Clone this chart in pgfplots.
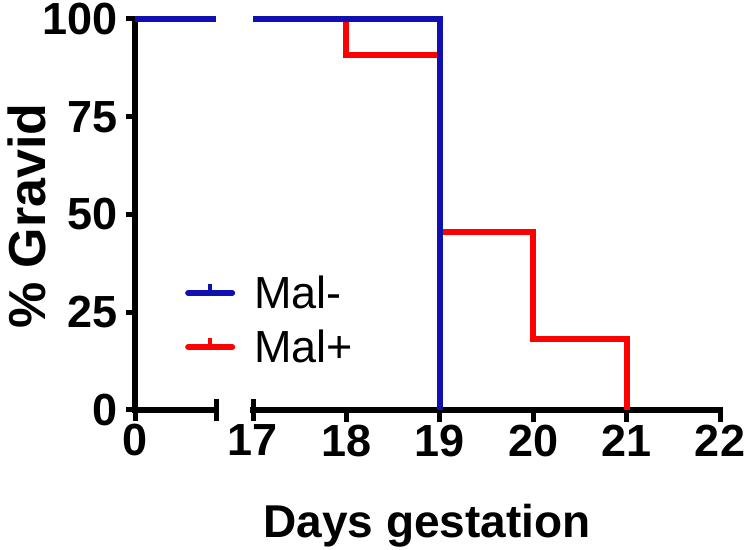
\documentclass[border=0pt]{standalone}
\usepackage{fontspec}
\setmainfont{Liberation Sans}
\usepackage{pgfplots}
\pgfplotsset{compat=1.18}
\definecolor{malblue}{RGB}{16,16,176}
\definecolor{malred}{RGB}{255,0,0}
\begin{document}
\begin{tikzpicture}
\useasboundingbox (0,0) rectangle (745bp,550bp);
\pgfplotsset{
  common/.style={
    scale only axis, clip=false,
    height=391bp,
    ymin=0, ymax=100,
    axis line style={line width=5.5bp, -, line cap=rect},
    major tick style={line width=5bp, black},
    tick align=outside,
    /pgf/number format/assume math mode=true,
    tick label style={font=\fontsize{45bp}{52bp}\selectfont\bfseries, inner sep=0pt},
    xticklabel style={anchor=north, yshift=-3bp},
    yticklabel style={anchor=east, xshift=-8bp},
    every axis plot/.append style={line width=6bp, line join=miter},
  }
}
% left segment
\begin{axis}[common, at={(135bp,140bp)}, anchor=south west, width=81bp,
  xmin=0, xmax=1,
  axis x line*=bottom, axis y line*=left,
  major tick length=9bp,
  xtick=\empty,
  extra x ticks={0,1}, extra x tick labels={0,},
  extra tick style={tick align=center, major tick length=22bp},
  ytick={0,25,50,75,100},
  reverse legend,
  legend style={draw=none, fill=none, at={(0.617,0.23)}, anchor=west,
    font=\fontsize{45bp}{52bp}\selectfont, nodes={inner sep=0pt},
    row sep=20bp, column sep=19bp, inner sep=0pt},
  legend cell align=left,
  legend image code/.code={
    \draw[#1, line width=6bp, line cap=round] (0bp,0bp) -- (44bp,0bp);
    \draw[#1, line width=4bp, line cap=butt] (22bp,0bp) -- (22bp,9bp);},
]
\addplot[malred] coordinates {(0,100) (1,100)};
\addlegendentry{Mal+}
\addplot[malblue] coordinates {(0,100) (1,100)};
\addlegendentry{Mal-}
\end{axis}
% right segment
\begin{axis}[common, at={(253bp,140bp)}, anchor=south west, width=467bp,
  xmin=17, xmax=22,
  axis x line*=bottom, axis y line=none,
  major tick length=12bp,
  xtick={18,19,20,21,22},
  extra x ticks={17}, extra x tick labels={17},
  extra tick style={tick align=center, major tick length=22bp},
]
\addplot[malred] coordinates {(17,100) (18,100) (18,90.91) (19,90.91) (19,45.45) (20,45.45) (20,18.18) (21,18.18) (21,0)};
\addplot[malblue] coordinates {(17,100) (19,100) (19,0)};
\end{axis}
\node[font=\fontsize{46bp}{54bp}\selectfont\bfseries, anchor=base] at (427bp,13bp) {Days gestation};
\node[font=\fontsize{52bp}{60bp}\selectfont\bfseries, anchor=base, rotate=90] at (45bp,334bp) {\% Gravid};
\end{tikzpicture}
\end{document}
